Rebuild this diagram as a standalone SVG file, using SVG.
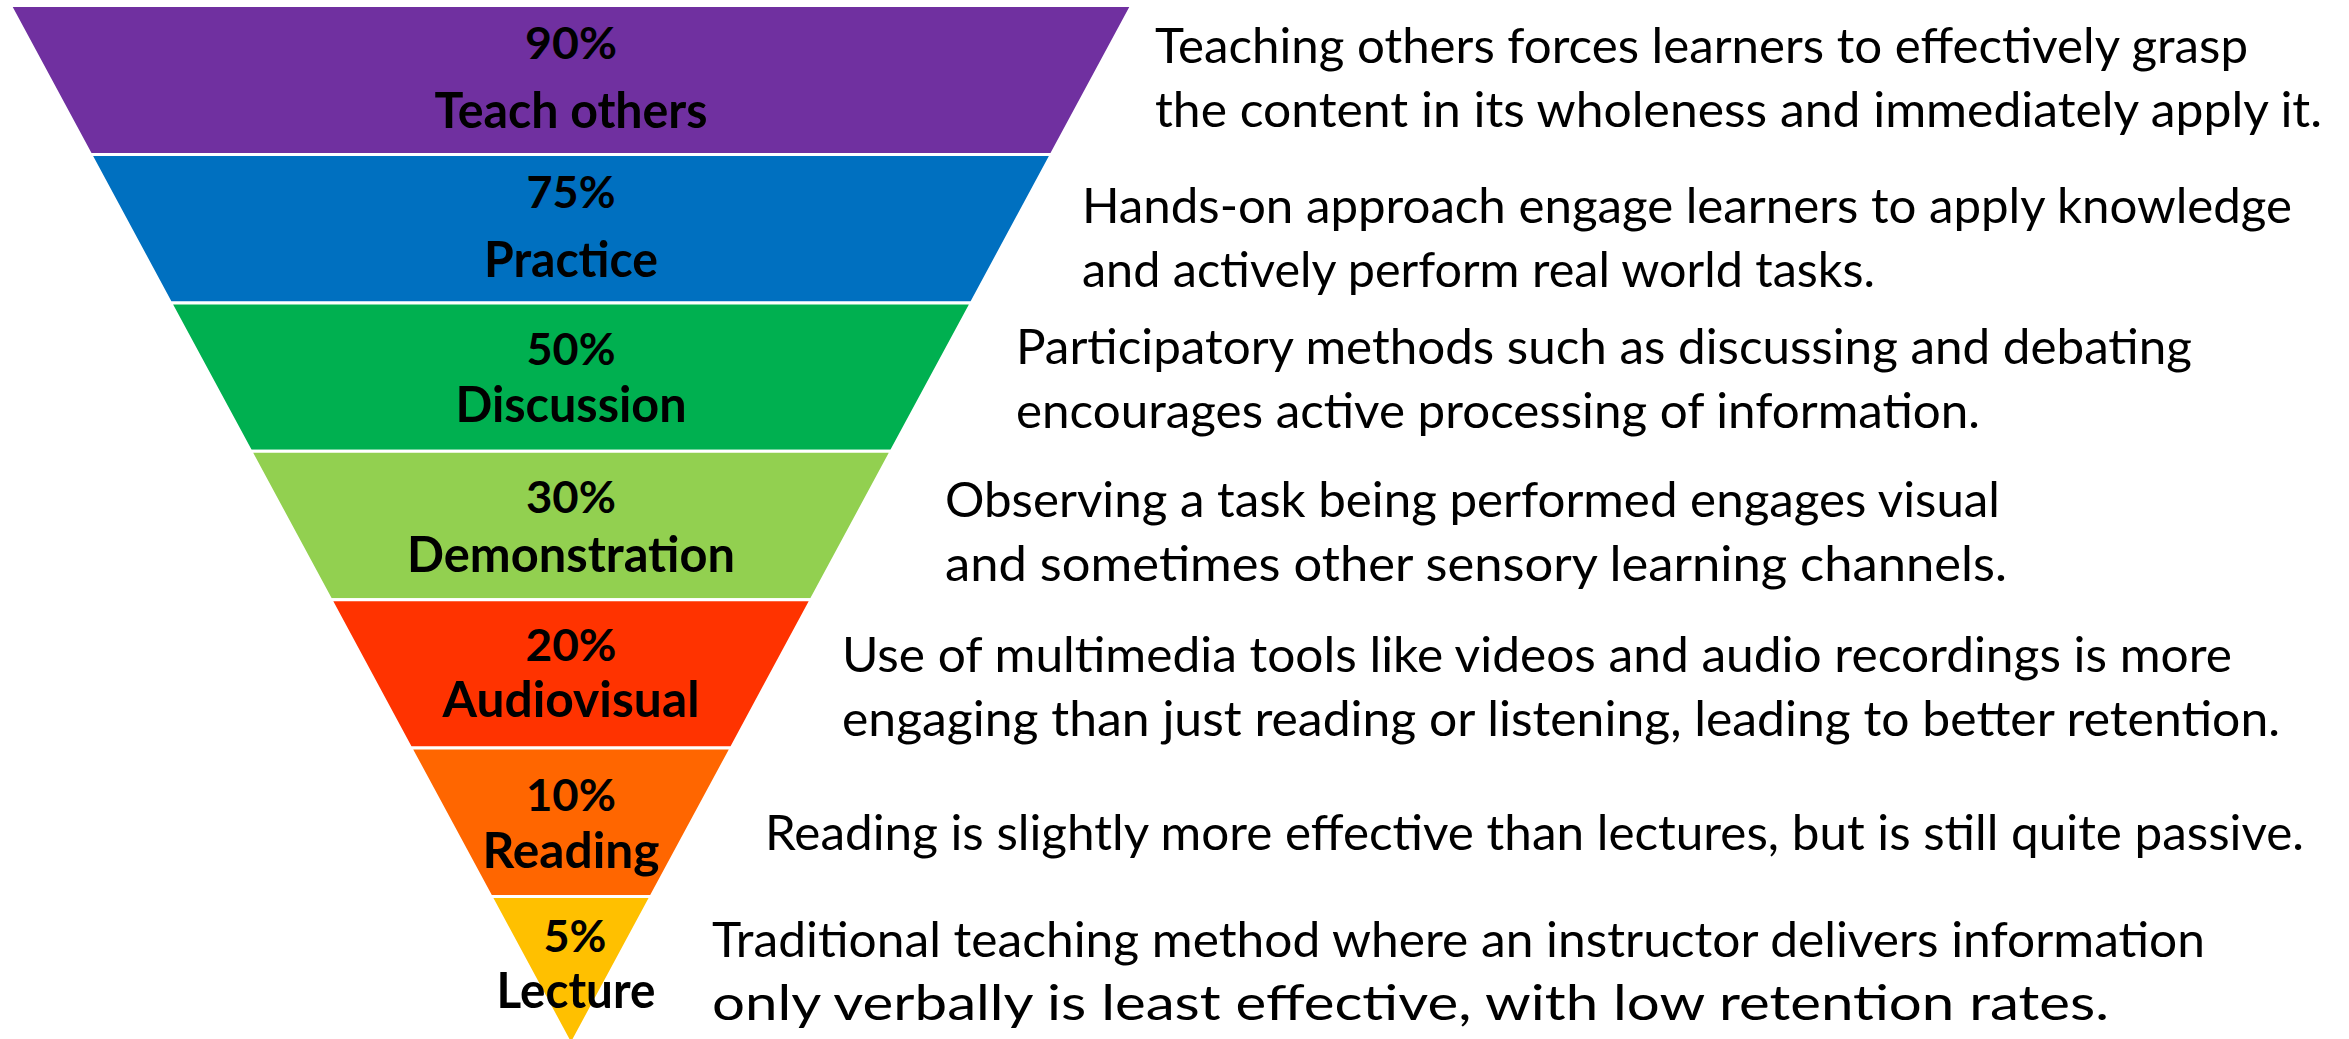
<svg xmlns="http://www.w3.org/2000/svg" width="2349" height="1039" viewBox="0 0 2349 1039">
<style>
.band{stroke:#ffffff;stroke-width:3;stroke-linejoin:miter}
.pct{font-family:Lato,"Open Sans","Liberation Sans",sans-serif;font-weight:bold;font-size:44px;fill:#000;text-anchor:middle}
.lbl{font-family:Lato,"Open Sans","Liberation Sans",sans-serif;font-weight:bold;font-size:49px;fill:#000;text-anchor:middle}
.desc{font-family:Lato,"Open Sans","Liberation Sans",sans-serif;font-size:49px;fill:#000}
</style>
<rect width="2349" height="1039" fill="#ffffff"/>
<g id="band-teach">
<polygon class="band" fill="#7030A0" points="10.2,5.5 1131.8,5.5 1051.4,154.5 90.6,154.5"/>
<text class="pct" x="571" y="59.3" textLength="92" lengthAdjust="spacingAndGlyphs">90%</text>
<text class="lbl" x="571" y="128.3" textLength="273" lengthAdjust="spacingAndGlyphs">Teach others</text>
<text class="desc" x="1155" y="63" textLength="1093" lengthAdjust="spacingAndGlyphs">Teaching others forces learners to effectively grasp</text>
<text class="desc" x="1155" y="127" textLength="1167" lengthAdjust="spacingAndGlyphs">the content in its wholeness and immediately apply it.</text>
</g>
<g id="band-practice">
<polygon class="band" fill="#0070C0" points="90.6,154.5 1051.4,154.5 971.4,302.9 170.6,302.9"/>
<text class="pct" x="571" y="208" textLength="89" lengthAdjust="spacingAndGlyphs">75%</text>
<text class="lbl" x="571" y="277" textLength="174" lengthAdjust="spacingAndGlyphs">Practice</text>
<text class="desc" x="1082" y="223" textLength="1210" lengthAdjust="spacingAndGlyphs">Hands-on approach engage learners to apply knowledge</text>
<text class="desc" x="1082" y="287" textLength="793" lengthAdjust="spacingAndGlyphs">and actively perform real world tasks.</text>
</g>
<g id="band-discussion">
<polygon class="band" fill="#00B050" points="170.6,302.9 971.4,302.9 891.3,451.3 250.7,451.3"/>
<text class="pct" x="571" y="365" textLength="89" lengthAdjust="spacingAndGlyphs">50%</text>
<text class="lbl" x="571" y="422" textLength="231" lengthAdjust="spacingAndGlyphs">Discussion</text>
<text class="desc" x="1016" y="364" textLength="1176" lengthAdjust="spacingAndGlyphs">Participatory methods such as discussing and debating</text>
<text class="desc" x="1016" y="428" textLength="964" lengthAdjust="spacingAndGlyphs">encourages active processing of information.</text>
</g>
<g id="band-demonstration">
<polygon class="band" fill="#92D050" points="250.7,451.3 891.3,451.3 811.2,599.7 330.8,599.7"/>
<text class="pct" x="571" y="513.3" textLength="90" lengthAdjust="spacingAndGlyphs">30%</text>
<text class="lbl" x="571" y="571.7" textLength="328" lengthAdjust="spacingAndGlyphs">Demonstration</text>
<text class="desc" x="945" y="517" textLength="1055" lengthAdjust="spacingAndGlyphs">Observing a task being performed engages visual</text>
<text class="desc" x="945" y="581" textLength="1062" lengthAdjust="spacingAndGlyphs">and sometimes other sensory learning channels.</text>
</g>
<g id="band-audiovisual">
<polygon class="band" fill="#FF3300" points="330.8,599.7 811.2,599.7 731.2,748.1 410.8,748.1"/>
<text class="pct" x="571" y="660.7" textLength="91" lengthAdjust="spacingAndGlyphs">20%</text>
<text class="lbl" x="571" y="717.3" textLength="257" lengthAdjust="spacingAndGlyphs">Audiovisual</text>
<text class="desc" x="842" y="672" textLength="1390" lengthAdjust="spacingAndGlyphs">Use of multimedia tools like videos and audio recordings is more</text>
<text class="desc" x="842" y="736" textLength="1438" lengthAdjust="spacingAndGlyphs">engaging than just reading or listening, leading to better retention.</text>
</g>
<g id="band-reading">
<polygon class="band" fill="#FF6600" points="410.8,748.1 731.2,748.1 651.1,896.5 490.9,896.5"/>
<text class="pct" x="571" y="811" textLength="90" lengthAdjust="spacingAndGlyphs">10%</text>
<text class="lbl" x="571" y="868" textLength="177" lengthAdjust="spacingAndGlyphs">Reading</text>
<text class="desc" x="765" y="850" textLength="1539" lengthAdjust="spacingAndGlyphs">Reading is slightly more effective than lectures, but is still quite passive.</text>
</g>
<g id="band-lecture">
<polygon class="band" fill="#FFC000" points="490.9,896.5 651.1,896.5 571,1045"/>
<text class="pct" x="575" y="951.7" textLength="63" lengthAdjust="spacingAndGlyphs">5%</text>
<text class="lbl" x="576" y="1008.3" textLength="159" lengthAdjust="spacingAndGlyphs">Lecture</text>
<text class="desc" x="712" y="957" textLength="1493" lengthAdjust="spacingAndGlyphs">Traditional teaching method where an instructor delivers information</text>
<text class="desc" x="712" y="1020" textLength="1397" lengthAdjust="spacingAndGlyphs">only verbally is least effective, with low retention rates.</text>
</g>
</svg>
